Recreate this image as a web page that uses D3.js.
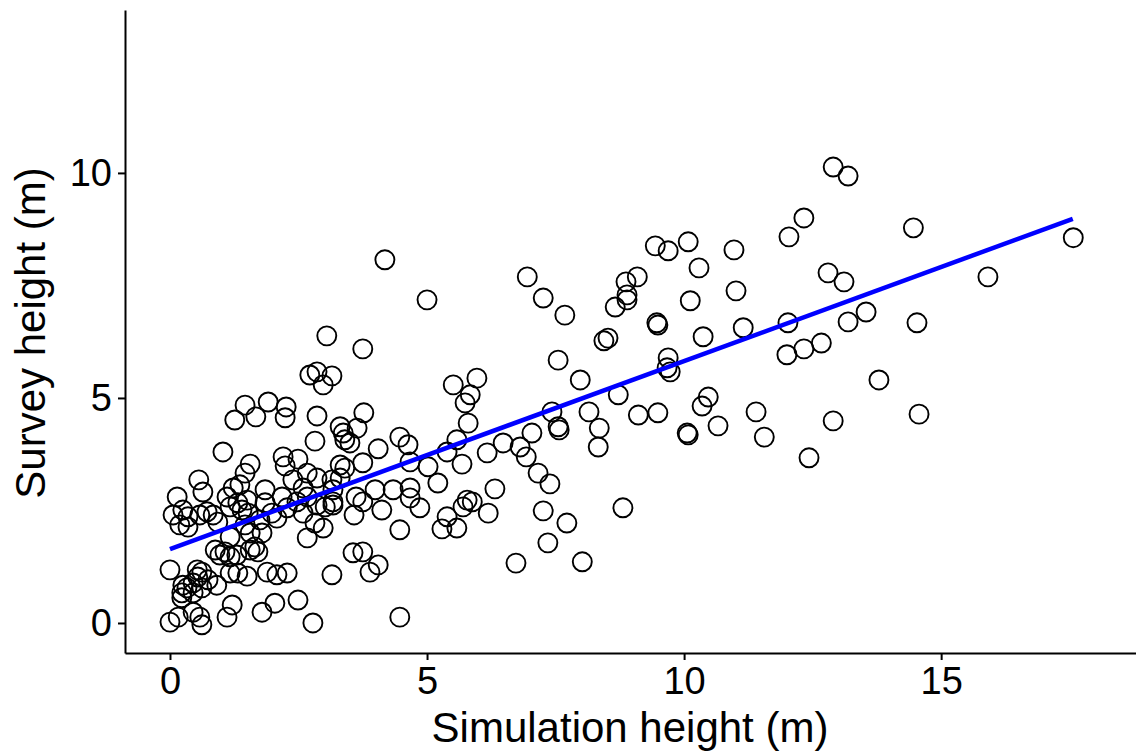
<!DOCTYPE html>
<html>
<head>
<meta charset="utf-8">
<script src="https://cdn.jsdelivr.net/npm/d3@7"></script>
<style>
  body { margin: 0; background: #fff; }
  svg text { font-family: "Liberation Sans", Arial, Helvetica, sans-serif; }
</style>
</head>
<body>
<div id="chart"></div>
<script>
var simHeight = [
  14.46, 17.57, 15.91, 14.53, 13.79, 14.57, 12.90, 13.19, 12.33, 12.04,
  10.97, 11.01, 12.80, 13.11, 13.54, 13.19, 12.02, 11.15, 10.37, 12.00,
  12.33, 12.67, 10.47, 10.35, 10.66, 11.40, 11.56, 12.90, 12.43,
  6.95, 7.26, 7.68, 9.44, 9.69, 10.08, 10.29, 10.12, 8.87, 9.09,
  8.89, 8.89, 8.66, 9.47, 9.49, 8.52, 8.44, 7.55, 7.98, 9.69,
  9.67, 9.73, 8.72, 7.43, 8.15, 9.11, 9.49, 7.55, 7.57, 8.35,
  8.33, 10.06, 10.08, 7.04, 6.81, 6.93, 7.16, 7.39, 7.26, 7.72,
  7.35, 6.73, 8.02, 8.81,
  4.18, 5.00, 3.05, 3.75, 3.15, 5.51, 5.97, 5.84, 5.74, 3.77,
  5.80, 3.31, 3.64, 3.37, 3.40, 3.50, 4.05, 4.47, 4.63, 5.39,
  5.58, 6.17, 6.48, 3.31, 3.40, 3.75, 4.67, 5.02, 5.68, 5.21,
  3.15, 3.31, 3.99, 4.34, 4.67, 3.62, 3.75, 3.17, 4.12, 3.58,
  4.67, 4.86, 5.39, 5.29, 5.58, 5.78, 5.88, 5.70, 6.19, 6.32,
  4.47, 3.56, 3.75, 3.89, 4.05, 3.15, 4.47,
  2.72, 2.86, 2.98, 1.46, 1.91, 2.26, 1.26, 1.67, 2.24, 2.86,
  1.03, 2.82, 2.20, 2.49, 2.24, 1.56, 1.46, 0.56,
  0.14, 0.64, 0.06, 0.25, 0.35, 0.19, 0.35, 0.58, 0.72, 0.84,
  0.93, 1.11, 1.23, 1.36, 1.17, 1.32, 1.40, 1.50, 1.52, 1.85,
  1.85, 1.98, 2.18, 2.08, 1.75, 1.46, 1.17, 1.56, 1.79, 1.65,
  1.56, 1.71, 0.88, 0.97, 1.07, 1.17, 1.30, 2.28, 2.47, 2.59,
  2.67, 2.86, 3.02, 3.17, 3.17, 2.67, 2.86, 2.39, 2.59, 2.82,
  2.98, 2.67, 0.00, 0.25, 0.23, 0.33, 0.53, 0.62, 0.54, 0.45,
  0.74, 0.91, 0.23, 0.45, 0.62, 1.17, 1.32, 1.50, 1.89, 2.08,
  2.28, 0.00, 0.16, 0.45, 0.58, 0.62, 1.11, 1.21, 1.79, 2.04,
  2.49, 2.78
];
var surveyHeight = [
  8.78, 8.56, 7.69, 6.67, 5.40, 4.64, 10.13, 9.93, 9.00, 8.58,
  8.29, 7.38, 7.78, 7.58, 6.91, 6.69, 6.67, 6.56, 6.36, 5.96,
  6.09, 6.22, 5.02, 4.82, 4.38, 4.69, 4.13, 4.49, 3.67,
  7.69, 7.22, 6.84, 8.38, 8.27, 8.47, 7.89, 7.16, 7.58, 7.69,
  7.29, 7.18, 7.02, 6.67, 6.62, 6.33, 6.27, 5.84, 5.40, 5.89,
  5.67, 5.58, 5.07, 4.69, 4.69, 4.62, 4.67, 4.36, 4.29, 4.33,
  3.91, 4.22, 4.18, 4.22, 3.91, 3.69, 3.33, 3.09, 2.49, 2.22,
  1.78, 1.33, 1.36, 2.56,
  8.07, 7.18, 6.38, 6.09, 5.49, 5.29, 5.44, 5.07, 4.89, 4.67,
  4.44, 4.36, 4.33, 4.22, 4.07, 4.00, 3.87, 4.13, 3.96, 3.80,
  4.07, 3.78, 4.00, 3.51, 3.44, 3.56, 3.58, 3.47, 3.53, 3.11,
  3.18, 3.22, 2.96, 2.96, 3.00, 2.80, 2.69, 2.62, 2.51, 2.40,
  2.78, 2.56, 2.36, 2.09, 2.11, 2.73, 2.69, 2.58, 2.44, 2.98,
  2.07, 1.56, 1.58, 1.13, 1.29, 1.07, 0.13,
  5.51, 5.58, 5.29, 4.84, 4.91, 4.80, 4.51, 4.58, 4.56, 4.60,
  3.80, 4.04, 3.69, 3.64, 3.49, 3.53, 3.33, 3.18,
  2.80, 2.91, 2.40, 2.51, 2.36, 2.18, 2.13, 2.40, 2.47, 2.40,
  2.24, 2.80, 3.00, 3.07, 2.58, 2.67, 2.51, 2.73, 2.44, 2.96,
  2.67, 2.44, 2.80, 2.33, 2.29, 2.18, 1.91, 2.00, 2.00, 1.69,
  1.62, 1.58, 1.62, 1.51, 1.58, 1.47, 1.51, 2.56, 2.69, 2.44,
  2.80, 2.62, 2.58, 2.69, 2.96, 3.33, 3.22, 3.18, 3.00, 2.22,
  2.11, 1.89, 1.18, 0.84, 0.67, 0.78, 1.18, 1.13, 1.02, 0.89,
  0.96, 0.84, 0.56, 0.67, 0.78, 1.11, 1.11, 1.04, 1.13, 1.07,
  1.11, 0.02, 0.13, 0.24, 0.13, -0.04, 0.13, 0.40, 0.24, 0.44,
  0.51, 0.00
];
// fitted regression line (ends)
var fitX = [0, 17.56];
var fitY = [1.64, 8.98];
var xTicks = [0, 5, 10, 15];
var yTicks = [0, 5, 10];

function init(){
	var w = 1136;
	var h = 755;

	var svg = d3.select("#chart")
				.append("svg")
				.attr("width", w)
				.attr("height", h);

	var x = d3.scaleLinear()
				.domain([-0.875, 18.79])
				.range([125, 1136]);
	var y = d3.scaleLinear()
				.domain([-0.667, 13.62])
				.range([653, 10]);

	var points = simHeight.map(function(d, i){ return [d, surveyHeight[i]]; });

	svg.append("g")
		.selectAll("circle")
		.data(points)
		.enter()
		.append("circle")
		.attr("cx", function(d){ return x(d[0]); })
		.attr("cy", function(d){ return y(d[1]); })
		.attr("r", 9.5)
		.attr("fill", "none")
		.attr("stroke", "#000")
		.attr("stroke-width", 1.9);

	var line = d3.line()
				.x(function(d){ return x(d[0]); })
				.y(function(d){ return y(d[1]); });

	svg.append("path")
		.datum(fitX.map(function(d, i){ return [d, fitY[i]]; }))
		.attr("d", line)
		.attr("fill", "none")
		.attr("stroke", "#0000ff")
		.attr("stroke-width", 4.5);

	//axes
	var xAxis = svg.append("g")
		.attr("transform", "translate(0,653)")
		.call(d3.axisBottom(x).tickValues(xTicks).tickSize(7).tickPadding(7).tickSizeOuter(0));
	var yAxis = svg.append("g")
		.attr("transform", "translate(125,0)")
		.call(d3.axisLeft(y).tickValues(yTicks).tickSize(7).tickPadding(6).tickSizeOuter(0));

	[xAxis, yAxis].forEach(function(a){
		a.select(".domain").attr("stroke", "#000").attr("stroke-width", 2);
		a.selectAll(".tick line").attr("stroke", "#000").attr("stroke-width", 2);
		a.selectAll(".tick text")
			.attr("fill", "#000")
			.style("font-size", "38px")
			.style("font-family", "'Liberation Sans', Arial, sans-serif");
	});

	svg.append("text")
		.attr("x", 630)
		.attr("y", 742)
		.attr("text-anchor", "middle")
		.style("font-size", "42px")
		.text("Simulation height (m)");

	svg.append("text")
		.attr("transform", "translate(45,333) rotate(-90)")
		.attr("text-anchor", "middle")
		.style("font-size", "42px")
		.text("Survey height (m)");
}

window.onload = init;
</script>
</body>
</html>
